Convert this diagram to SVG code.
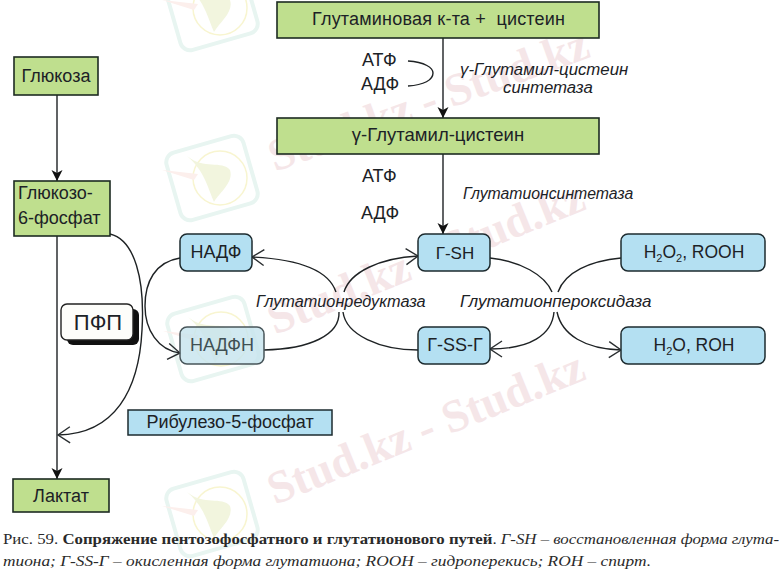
<svg xmlns="http://www.w3.org/2000/svg" width="779" height="572" viewBox="0 0 779 572">
<style>
text{font-family:"Liberation Sans",Arial,sans-serif;fill:#1c2226;font-size:18px}
.c{text-anchor:middle}
.i{font-style:italic;font-size:16.8px}
.g{fill:#bfdf8e;stroke:#1d2b22;stroke-width:1.6}
.b{fill:#b4e0f2;stroke:#1d2b2f;stroke-width:1.5}
.l{fill:none;stroke:#1e2224;stroke-width:1.4}
.wm{font-family:"Liberation Serif",serif;font-weight:bold;font-size:46px;fill:#f5e6e8}
.cap{font-family:"Liberation Serif",serif;font-size:14.5px;fill:#2a2a2a}
</style>
<defs>
<marker id="s" markerUnits="userSpaceOnUse" markerWidth="12" markerHeight="14" refX="11" refY="6" orient="auto"><path d="M0 0.5L11 6L0 11.5L3 6Z" fill="#111"/></marker>
<marker id="o" markerUnits="userSpaceOnUse" markerWidth="15" markerHeight="20" refX="13" refY="9" orient="auto"><path d="M1 1L13 9L1 17" fill="none" stroke="#2a2e30" stroke-width="1.4"/></marker>
<g id="logo">
<rect x="-40" y="-35" width="80" height="70" rx="10" fill="none" stroke="#e8f5f1" stroke-width="4" transform="rotate(-16)"/>
<circle cx="8" cy="0" r="27" fill="none" stroke="#f8f5d0" stroke-width="1.5"/>
<path d="M-25 -22C-8 -8 10 -18 18 -8C22 4 8 14 2 24C-4 10 -8 -8 -25 -22Z" fill="#f2f5de"/>
<path d="M-50 -8L-14 -4L-18 2Z" fill="#fcefec"/>
</g>
</defs>
<rect width="779" height="572" fill="#fff"/>
<g id="watermark">
<text class="wm" transform="rotate(-20 275 172)" x="275" y="172">Stud.kz - Stud.kz</text>
<text class="wm" transform="rotate(-22 275 335)" x="275" y="335">Stud.kz - Stud.kz</text>
<text class="wm" transform="rotate(-22 275 505)" x="275" y="505">Stud.kz - Stud.kz</text>
<use href="#logo" x="212" y="8"/>
<use href="#logo" x="212" y="178"/>
<use href="#logo" x="213" y="339"/>
<use href="#logo" x="212" y="514"/>
</g>
<g id="connectors">
<path class="l" marker-end="url(#s)" d="M443 38V118"/>
<path class="l" marker-end="url(#s)" d="M443 154V234"/>
<path class="l" marker-end="url(#s)" d="M57 95V181"/>
<path class="l" marker-end="url(#s)" d="M57 236V479"/>
<path class="l" d="M408 61C425 62 433 68 433 73C433 80 424 85 408 86"/>
<path class="l" marker-end="url(#o)" d="M110 234C135 240 145 280 142 330C139 390 115 434 58 435"/>
<path class="l" marker-end="url(#o)" d="M180 258C155 262 145 282 145 306C145 330 158 350 180 353"/>
<path class="l" marker-end="url(#o)" d="M336 292C328 268 295 259 252 257"/>
<path class="l" d="M339 312C340 335 310 349 264 350"/>
<path class="l" marker-end="url(#o)" d="M344 292C350 272 380 258 418 256"/>
<path class="l" d="M343 312C346 335 380 350 418 350"/>
<path class="l" d="M490 258C520 261 545 275 552 292"/>
<path class="l" marker-end="url(#o)" d="M554 312C552 335 530 349 490 349"/>
<path class="l" d="M621 258C590 261 565 272 558 292"/>
<path class="l" marker-end="url(#o)" d="M557 312C562 335 585 349 621 350"/>
</g>
<g id="n-glutamic"><rect class="g" x="277" y="2" width="322" height="36"/><text x="312" y="25" textLength="253" xml:space="preserve">Глутаминовая к-та +  цистеин</text></g>
<g id="n-gamma"><rect class="g" x="277" y="118" width="322" height="36"/><text class="c" x="438" y="141" style="font-size:18.5px">γ-Глутамил-цистеин</text></g>
<g id="n-glucose"><rect class="g" x="14" y="57" width="84" height="38"/><text class="c" x="56" y="82">Глюкоза</text></g>
<g id="n-g6p"><rect class="g" x="14" y="181" width="96" height="55"/><text x="18" y="199">Глюкозо-</text><text x="18" y="224">6-фосфат</text></g>
<g id="n-lactate"><rect class="g" x="13" y="479" width="96" height="33"/><text class="c" x="61" y="502">Лактат</text></g>
<g id="n-pfp"><rect x="67" y="309" width="72" height="36" rx="6" fill="#111"/><rect x="61" y="304" width="72" height="36" rx="6" fill="#fdfdfa" stroke="#222" stroke-width="1.4"/><text class="c" x="98" y="330" style="font-size:22px">ПФП</text></g>
<g id="n-nadp"><rect class="b" x="180" y="234" width="72" height="37" rx="7"/><text class="c" x="216" y="258">НАДФ</text></g>
<g id="n-nadph"><rect class="b" x="180" y="327" width="84" height="37" rx="7" style="fill:#c6e4ee;fill-opacity:.8;stroke:#48565a"/><text class="c" x="222" y="351" style="fill:#3f5054">НАДФН</text></g>
<g id="n-ribulose"><rect class="b" x="128" y="410" width="204" height="25"/><text class="c" x="230" y="428">Рибулезо-5-фосфат</text></g>
<g id="n-gsh"><rect class="b" x="418" y="234" width="72" height="37" rx="7"/><text class="c" x="455" y="259" style="font-size:17px">Г-SH</text></g>
<g id="n-gssg"><rect class="b" x="418" y="327" width="72" height="37" rx="7"/><text class="c" x="455" y="351">Г-SS-Г</text></g>
<g id="n-h2o2"><rect class="b" x="621" y="234" width="144" height="37" rx="7"/><text class="c" x="694" y="258" style="font-size:17.5px">H<tspan dy="4" font-size="11">2</tspan><tspan dy="-4">O</tspan><tspan dy="4" font-size="11">2</tspan><tspan dy="-4">, ROOH</tspan></text></g>
<g id="n-h2o"><rect class="b" x="621" y="327" width="144" height="37" rx="7"/><text class="c" x="694" y="351" style="font-size:17.5px">H<tspan dy="4" font-size="11">2</tspan><tspan dy="-4">O, ROH</tspan></text></g>
<g id="labels">
<text x="362" y="66">АТФ</text>
<text x="361" y="90">АДФ</text>
<text x="362" y="182">АТФ</text>
<text x="361" y="219">АДФ</text>
<text class="i" x="460" y="75">γ-Глутамил-цистеин</text>
<text class="i" x="503" y="93">синтетаза</text>
<text class="i" x="463" y="199" style="font-size:15.8px">Глутатионсинтетаза</text>
<text class="i" x="256" y="307" style="font-size:16.3px">Глутатионредуктаза</text>
<text class="i" x="460" y="307" style="font-size:17px">Глутатионпероксидаза</text>
</g>
<g id="caption">
<text class="cap" x="3" y="544" textLength="776" lengthAdjust="spacingAndGlyphs">Рис. 59. <tspan font-weight="bold">Сопряжение пентозофосфатного и глутатионового путей</tspan>. <tspan font-style="italic">Г-SH – восстановленная форма глута-</tspan></text>
<text class="cap" x="3" y="566" font-style="italic" textLength="648" lengthAdjust="spacingAndGlyphs">тиона; Г-SS-Г – окисленная форма глутатиона; ROOH – гидроперекись; ROH – спирт.</text>
</g>
</svg>
